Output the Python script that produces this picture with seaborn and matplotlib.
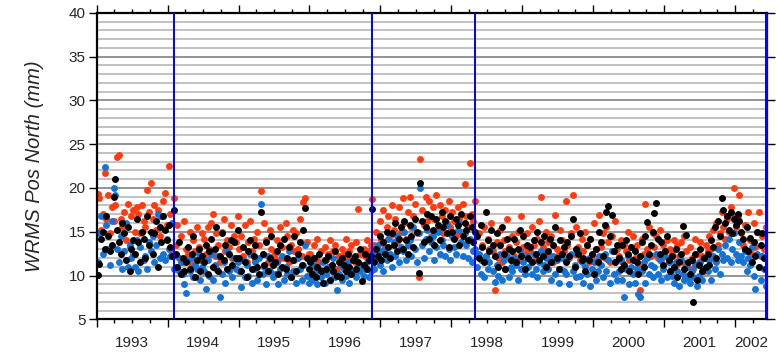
import numpy as np
import pandas as pd
import matplotlib
matplotlib.use("Agg")
import matplotlib.pyplot as plt
import seaborn as sns

# ---------------- data (mm), roughly 40 samples per year, 1993.0 -> 2002.45
t_start, t_end = 1993.0, 2002.45
breaks = [1994.09, 1996.88, 1998.34, 2002.44]
years = [1993, 1994, 1995, 1996, 1997, 1998, 1999, 2000, 2001, 2002]
year_labels = ["1993", "1994", "1995", "1996", "1997", "1998", "1999", "2000", "2001", "2002"]

red_mm = [
    19.3, 18.8, 15.2, 17.0, 21.7, 16.5, 19.2, 14.8, 17.8, 16.2,
    18.0, 23.5, 23.8, 16.5, 15.5, 17.2, 14.0, 18.2, 13.2, 16.8,
    17.5, 15.0, 17.8, 17.0, 14.8, 18.0, 16.2, 15.5, 19.8, 17.2,
    20.6, 16.5, 18.0, 15.2, 17.5, 14.5, 16.8, 18.5, 19.4, 15.8, 22.5, 17.0, 12.5, 18.8,
    13.5, 15.8, 12.0, 14.5, 11.5, 16.2, 13.0, 12.5, 15.0, 11.2, 14.0, 12.8, 15.5, 13.2, 11.8, 14.8,
    14.2, 12.5, 15.5, 13.0, 16.0, 17.0, 12.2, 14.8, 13.5, 11.5, 15.0, 16.5, 12.8, 14.0, 13.2, 15.8, 12.0, 14.5, 13.8, 16.8,
    13.0, 14.5, 12.2, 15.8, 11.5, 13.8, 16.2, 12.8, 14.2, 11.8, 15.0, 13.5, 19.6, 12.5, 16.0, 14.0, 11.5, 15.2, 13.0, 12.2,
    12.5, 14.0, 11.8, 15.5, 13.2, 12.0, 16.0, 14.5, 11.5, 13.5, 15.2, 12.8, 14.8, 13.0, 16.5, 12.2, 18.4, 18.9, 13.8, 12.5,
    12.5, 11.0, 13.5, 12.0, 14.2, 11.5, 12.8, 10.5, 13.2, 11.8, 12.5, 14.0, 11.2, 12.8, 13.5, 10.8, 12.2, 11.5,
    13.0, 12.5, 14.2, 11.8, 12.8, 13.5, 12.0, 11.5, 13.8, 17.6, 12.5, 11.2, 13.0, 12.2, 14.0, 12.8, 13.5,
    18.7, 13.5, 15.0, 12.8, 16.2, 14.0, 17.5, 13.2, 15.5, 16.8, 14.5, 18.0, 15.2, 16.5, 13.8, 17.8, 15.0, 18.8,
    16.0, 14.2, 17.2, 19.0, 15.5, 16.8, 18.2, 14.8, 9.8, 23.3, 17.5, 15.8, 19.0, 16.2, 18.5, 14.5, 17.8, 16.5,
    19.2, 15.2, 18.0, 16.8, 14.8, 17.5, 16.0, 18.5, 15.5, 17.2, 16.2, 14.5, 17.8, 16.5, 15.0, 18.2, 20.5, 16.8,
    15.5, 22.8, 17.0, 16.2, 18.5,
    12.5, 14.8, 11.8, 13.5, 15.5, 12.2, 14.2, 13.0, 16.0, 12.8,
    8.4, 13.8, 12.0, 15.2, 11.5, 14.0, 12.8, 16.5, 13.2, 11.8,
    14.5, 12.2, 13.8, 15.0, 11.8, 16.8, 13.2, 12.5, 14.8, 13.0,
    12.8, 15.5, 13.5, 11.8, 14.2, 16.2, 19.0, 13.2, 12.5, 15.0,
    13.8, 12.2, 14.5, 11.5, 16.9, 13.0, 12.5, 15.2, 14.0, 12.8,
    18.5, 13.5, 12.0, 14.8, 19.2, 12.5, 15.5, 13.2, 11.8, 14.2,
    12.8, 15.0, 13.5, 11.5, 14.2, 12.2, 16.0, 13.0, 11.8, 16.9,
    13.2, 14.8, 12.0, 15.5, 13.8, 11.5, 14.5, 12.8, 16.2, 13.0,
    12.2, 14.0, 11.5, 13.5, 12.8, 15.0, 11.8, 13.2, 14.5, 12.0,
    13.5, 11.2, 8.3, 14.2, 12.5, 18.2, 13.0, 15.5, 12.2, 14.8,
    13.2, 14.5, 12.0, 15.2, 11.8, 13.5, 12.8, 14.0, 11.5, 13.0,
    12.5, 14.0, 11.2, 13.5, 12.2, 13.8, 11.5, 14.5, 12.8, 11.0,
    13.2, 12.0, 10.8, 14.2, 12.5, 11.5, 13.8, 12.2, 10.5, 13.5,
    12.8, 14.5, 13.0, 15.2, 11.8, 16.0, 13.5, 14.8, 17.2, 15.5,
    14.2, 16.5, 15.0, 17.8, 17.0, 20.0, 15.5, 16.8, 19.2, 14.8,
    13.5, 15.8, 12.8, 17.2, 14.0, 12.5, 16.0, 13.2, 15.0, 17.2, 12.2, 14.5, 13.0, 15.5,
]

black_mm = [
    10.1, 11.3, 14.2, 15.0, 13.0, 16.8, 14.5, 12.8, 13.5, 19.0,
    21.0, 15.2, 13.8, 12.5, 16.0, 14.8, 11.8, 15.5, 10.5, 13.0,
    14.0, 12.5, 16.5, 13.8, 11.5, 15.0, 14.2, 12.0, 16.8, 13.5,
    15.0, 12.5, 14.8, 16.2, 11.0, 15.5, 13.8, 16.8, 15.2, 14.0, 15.8, 13.2, 12.2, 17.5,
    12.5, 11.0, 13.8, 10.2, 12.0, 10.5, 11.5, 13.2, 10.8, 12.5, 14.5, 9.8, 11.8, 13.0, 10.5, 12.2,
    11.5, 13.5, 10.2, 12.8, 14.2, 11.0, 13.0, 15.5, 10.5, 12.2, 14.8, 11.8, 13.5, 10.8, 12.5, 14.0, 11.2, 13.8, 12.0, 15.2,
    12.0, 10.5, 13.2, 11.5, 9.8, 12.8, 14.0, 10.8, 12.2, 13.5, 11.0, 10.2, 17.2, 12.5, 11.2, 13.8, 10.5, 12.0, 14.5, 11.2,
    11.5, 12.8, 10.2, 13.5, 11.0, 14.2, 10.8, 12.0, 13.2, 9.8, 11.8, 14.5, 10.5, 12.5, 13.8, 11.2, 15.2, 17.7, 12.0, 10.8,
    11.5, 10.2, 12.0, 9.8, 11.0, 12.5, 10.5, 9.1, 11.8, 10.8, 12.2, 9.5, 11.2, 10.5, 12.8, 10.0, 11.5, 9.8,
    12.0, 11.2, 10.5, 12.5, 11.0, 10.2, 11.8, 12.2, 10.8, 11.5, 13.0, 9.4, 11.2, 12.5, 10.8, 11.8, 12.2,
    17.6, 11.5, 13.0, 12.2, 14.5, 11.8, 13.8, 12.5, 15.0, 13.2, 12.0, 14.8, 13.5, 16.0, 12.8, 14.2, 15.5, 13.0,
    16.2, 14.0, 12.5, 15.8, 14.5, 13.2, 16.5, 15.0, 10.3, 20.6, 16.2, 13.8, 15.5, 17.0, 14.2, 16.8, 15.2, 13.5,
    16.5, 15.8, 14.0, 17.2, 15.5, 16.2, 14.8, 13.2, 16.8, 15.0, 14.2, 16.5, 15.8, 13.5, 17.0, 14.5, 16.0, 15.2,
    14.0, 16.8, 15.5, 13.8, 15.0,
    14.5, 12.0, 15.8, 13.2, 11.5, 17.3, 14.0, 12.8, 15.2, 13.5,
    12.2, 14.8, 11.0, 13.5, 15.5, 12.5, 10.8, 14.2, 13.0, 11.8,
    12.8, 14.2, 11.5, 13.0, 15.2, 12.2, 14.5, 10.8, 13.5, 12.0,
    13.2, 11.5, 14.0, 12.5, 15.0, 11.8, 13.8, 12.2, 14.5, 11.0,
    12.8, 14.2, 11.5, 13.5, 15.5, 12.0, 10.8, 14.0, 12.5, 13.2,
    11.5, 13.8, 12.2, 14.5, 16.4, 11.0, 13.0, 12.5, 14.8, 11.8,
    12.0, 10.5, 13.5, 11.8, 14.2, 12.5, 10.2, 13.0, 11.5, 15.0,
    13.8, 12.2, 15.8, 17.3, 17.9, 14.5, 16.9, 12.8, 11.5, 13.5,
    12.0, 10.8, 13.5, 11.2, 14.0, 12.5, 10.5, 13.2, 11.8, 12.8,
    11.5, 10.2, 12.2, 13.8, 11.0, 14.5, 16.1, 12.5, 13.5, 15.0,
    17.1, 18.3, 14.2, 12.5, 13.8, 11.2, 12.8, 14.5, 11.8, 10.5,
    12.2, 11.0, 13.0, 9.8, 11.5, 12.5, 15.6, 10.8, 14.6, 11.5,
    10.2, 11.8, 7.0, 12.5, 9.5, 11.2, 13.0, 10.5, 12.0, 11.0,
    12.5, 11.2, 14.0, 13.2, 15.5, 12.0, 16.2, 14.5, 18.8, 17.5,
    16.0, 16.8, 15.2, 17.2, 14.8, 16.5, 15.8, 17.0, 16.2, 15.0,
    14.2, 13.0, 15.5, 12.8, 14.3, 11.5, 13.8, 12.2, 15.0, 11.0, 13.5, 14.8, 12.0, 10.8,
]

blue_mm = [
    11.5, 14.8, 16.8, 12.4, 22.4, 15.8, 13.0, 11.2, 16.2, 20.0,
    19.2, 13.0, 11.5, 14.5, 10.8, 12.8, 16.0, 11.0, 13.5, 12.0,
    12.5, 11.0, 14.0, 10.5, 13.2, 15.0, 11.8, 12.2, 10.8, 13.8,
    12.8, 14.5, 11.5, 13.5, 17.0, 12.0, 16.8, 12.5, 11.8, 14.2, 13.0, 12.2, 16.0, 10.8,
    11.0, 12.2, 10.5, 11.5, 10.2, 9.0, 8.0, 11.8, 10.5, 12.0, 9.8, 11.2, 10.8, 12.5, 9.5, 11.0,
    10.5, 8.5, 11.8, 10.0, 12.5, 9.5, 11.2, 10.8, 12.2, 7.5, 10.2, 11.5, 9.2, 12.8, 10.5, 11.0, 9.8, 12.0, 10.8, 11.5,
    10.5, 8.7, 11.8, 9.8, 11.2, 10.0, 12.5, 9.2, 10.8, 11.5, 9.5, 12.0, 18.2, 10.2, 11.0, 9.0, 12.2, 10.5, 11.8, 9.8,
    10.2, 11.5, 9.0, 10.8, 12.2, 9.5, 11.0, 10.2, 12.8, 9.8, 10.5, 11.8, 9.2, 12.0, 10.8, 9.5, 11.2, 13.5, 10.0, 9.2,
    10.0, 9.5, 11.2, 10.5, 9.0, 10.8, 9.8, 11.5, 9.2, 10.2, 11.0, 9.5, 10.5, 12.0, 9.8, 8.3, 10.2, 11.2,
    9.5, 10.8, 10.0, 11.5, 9.2, 10.5, 11.8, 10.2, 9.8, 11.0, 10.5, 11.2, 10.0, 10.8, 11.5, 9.8, 10.5,
    12.5, 10.8, 12.0, 13.5, 11.2, 12.8, 10.5, 13.0, 11.8, 14.2, 12.5, 11.0, 13.8, 12.2, 14.5, 11.5, 13.2, 12.8,
    15.0, 11.8, 13.5, 14.0, 12.2, 15.5, 13.0, 11.5, 14.8, 20.0, 13.5, 12.0, 14.2, 15.2, 12.8, 13.8, 14.5, 11.8,
    13.2, 15.0, 12.5, 14.0, 13.5, 12.2, 15.8, 13.0, 11.8, 14.5, 13.2, 12.5, 15.2, 16.0, 13.8, 12.2, 14.8, 13.5,
    12.0, 14.2, 11.5, 12.8, 13.0,
    11.0, 12.5, 10.2, 11.8, 9.8, 12.2, 10.8, 11.5, 13.0, 10.5,
    9.3, 11.2, 10.0, 12.5, 9.5, 11.8, 10.8, 12.2, 9.8, 11.0,
    10.5, 12.0, 11.2, 9.5, 12.8, 10.8, 11.5, 10.2, 12.2, 11.0,
    11.8, 10.2, 12.5, 10.8, 9.8, 11.5, 12.8, 10.5, 11.2, 12.0,
    10.8, 11.5, 9.5, 12.2, 10.2, 11.8, 9.2, 10.8, 12.0, 10.5,
    10.2, 11.8, 9.0, 12.5, 10.5, 11.2, 9.8, 12.8, 10.0, 11.5,
    9.2, 11.0, 10.2, 12.0, 8.8, 10.8, 11.5, 9.5, 10.5, 12.2,
    11.2, 9.8, 12.5, 10.5, 11.8, 9.2, 12.8, 10.2, 11.5, 9.5,
    10.5, 11.8, 9.5, 7.6, 10.8, 12.2, 9.0, 11.0, 10.2, 9.2,
    10.8, 7.9, 7.5, 10.5, 11.5, 9.2, 12.0, 10.2, 11.2, 9.8,
    11.0, 12.5, 10.2, 11.8, 9.5, 10.8, 12.2, 9.8, 11.5, 10.5,
    10.0, 9.2, 11.5, 10.5, 8.8, 11.8, 10.2, 9.5, 11.0, 9.8,
    9.2, 10.5, 9.8, 11.2, 8.8, 10.0, 11.5, 9.5, 10.8, 12.0,
    10.5, 11.8, 9.5, 12.2, 10.8, 11.5, 13.0, 10.2, 12.5, 11.8,
    13.5, 12.0, 14.2, 11.5, 13.0, 14.8, 12.5, 11.8, 13.8, 12.2,
    11.5, 12.8, 10.5, 12.0, 11.2, 13.2, 10.0, 8.5, 12.5, 11.0, 9.5, 12.2, 10.8, 8.8,
]

series_colors = {"red": "#ff3b0f", "blue": "#1673d6", "black": "#000000"}


def to_frame(values, name):
    n = len(values)
    t = t_start + (np.arange(n) + 0.5) * (t_end - t_start) / n
    return pd.DataFrame({"year": t, "wrms": values, "series": name})


df = pd.concat([to_frame(red_mm, "red"), to_frame(blue_mm, "blue"),
                to_frame(black_mm, "black")], ignore_index=True)

# ---------------- plotting
sns.set_style("white")
plt.rcParams["font.family"] = ["Liberation Sans", "DejaVu Sans"]

fig = plt.figure(figsize=(7.77, 3.54), dpi=100)
ax = fig.add_axes([0.1245, 0.098, 0.8625, 0.866])

for name in ["red", "blue", "black"]:
    sns.scatterplot(data=df[df["series"] == name], x="year", y="wrms",
                    color=series_colors[name], s=25, linewidth=0,
                    ax=ax, zorder=2, legend=False)

for b in breaks:
    ax.axvline(b, color="#0000ff", lw=1.4, zorder=3)

ax.set_xlim(t_start, t_end)
ax.set_ylim(5, 40)

# y axis: majors every 5, light grid every 1
ax.set_yticks(np.arange(5, 41, 5))
ax.set_yticks(np.arange(5, 41, 1), minor=True)
ax.grid(False)
ax.grid(which="minor", axis="y", color="#b8b8b8", lw=1.2, zorder=0)
ax.grid(which="major", axis="y", color="#808080", lw=1.2, zorder=0)
ax.set_axisbelow(True)

# x axis: year boundaries (major) and quarters (minor), labels centred in years
ax.set_xticks(years)
ax.set_xticks(np.arange(t_start, t_end, 0.25), minor=True)
ax.tick_params(axis="x", which="major", direction="out", length=6, width=1,
               top=True, bottom=True, labelbottom=False, color="black")
ax.tick_params(axis="x", which="minor", direction="out", length=3, width=1,
               top=True, bottom=True, color="black")
ax.tick_params(axis="y", which="major", direction="out", length=6, width=1,
               left=True, right=True, labelsize=11, pad=2, color="black")
ax.tick_params(axis="y", which="minor", length=0)

centers = [(y + min(y + 1, t_end)) / 2 for y in years]
sec = ax.secondary_xaxis("bottom")
sec.set_xticks(centers, labels=year_labels)
sec.tick_params(length=0, pad=12, labelsize=11)
sec.spines["bottom"].set_visible(False)

ax.set_xlabel("")
ax.set_ylabel("WRMS Pos North (mm)", fontsize=14.5, style="italic", labelpad=18)

for sp in ax.spines.values():
    sp.set_visible(True)
    sp.set_color("black")
    sp.set_linewidth(1.6)
ax.spines["right"].set_color("#0000ff")

fig.savefig("out.png", dpi=100)
